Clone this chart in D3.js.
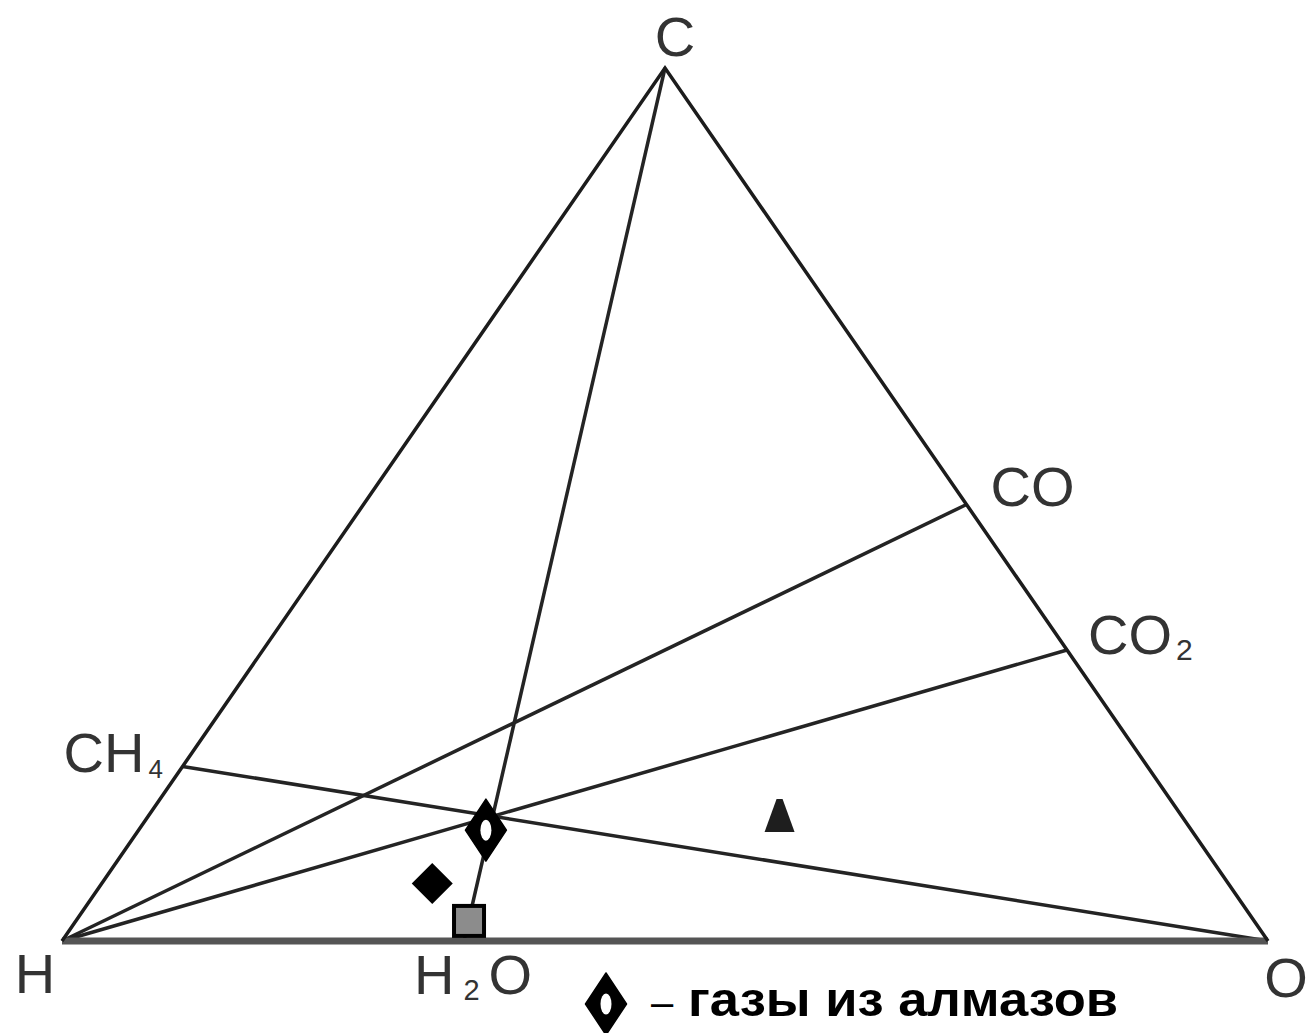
<!DOCTYPE html>
<html>
<head>
<meta charset="utf-8">
<script src="https://cdn.jsdelivr.net/npm/d3@7"></script>
<style>
  html, body { margin: 0; padding: 0; background: #ffffff; }
  svg { display: block; }
</style>
</head>
<body>
<div id="chart"></div>
<script>
// Тройная диаграмма C-H-O: состав [h, o, c] в атомных долях

// вершины треугольника
const vertexNames = ['H', 'O', 'C'];
const vertexComps = [[1, 0, 0], [0, 1, 0], [0, 0, 1]];

// соединения на сторонах
const compoundNames = ['CH4', 'CO', 'CO2', 'H2O'];
const compoundComps = [
    [0.8, 0, 0.2],
    [0, 0.5, 0.5],
    [0, 2 / 3, 1 / 3],
    [2 / 3, 1 / 3, 0]
];

// линии-разрезы (откуда -> куда)
const tieFrom = ['H', 'H', 'C', 'CH4'];
const tieTo = ['CO', 'CO2', 'H2O', 'O'];

// точки составов
const pointTypes = ['filledDiamond', 'square', 'triangle', 'hollowDiamond'];
const pointComps = [
    [0.660, 0.274, 0.066],
    [0.651, 0.326, 0.023],
    [0.334, 0.524, 0.142],
    [0.585, 0.288, 0.127]
];

const legendText = 'газы из алмазов';

class TernaryChart {
    constructor(containerId) {
        this.container = document.getElementById(containerId);
        this.width = 1307;
        this.height = 1033;
        this.font = 'Liberation Sans, Arial, sans-serif';

        // x = o + c/2, y = c
        this.x = d3.scaleLinear().domain([0, 1]).range([62, 1268]);
        this.y = d3.scaleLinear().domain([0, 1]).range([941, 68]);

        this.init();
    }

    init() {
        this.svg = d3.select(this.container)
            .append('svg')
            .attr('width', this.width)
            .attr('height', this.height)
            .style('background', '#ffffff');

        this.lookup = {};
        vertexNames.forEach((n, i) => { this.lookup[n] = vertexComps[i]; });
        compoundNames.forEach((n, i) => { this.lookup[n] = compoundComps[i]; });

        this.drawTieLines();
        this.drawEdges();
        this.drawPoints();
        this.drawLabels();
        this.drawLegend();
    }

    project(comp) {
        const [h, o, c] = comp;
        return [this.x(o + c / 2), this.y(c)];
    }

    drawEdges() {
        const line = d3.line();
        const H = this.project(this.lookup.H);
        const O = this.project(this.lookup.O);
        const C = this.project(this.lookup.C);

        // основание H-O толще и серое
        this.svg.append('path')
            .attr('d', line([H, O]))
            .attr('stroke', '#555555')
            .attr('stroke-width', 7)
            .attr('fill', 'none');

        this.svg.append('path')
            .attr('d', line([O, C, H]))
            .attr('stroke', '#1c1c1c')
            .attr('stroke-width', 3.5)
            .attr('stroke-linejoin', 'miter')
            .attr('fill', 'none');
    }

    drawTieLines() {
        const line = d3.line();
        this.svg.selectAll('.tie')
            .data(tieFrom.map((f, i) => [f, tieTo[i]]))
            .enter()
            .append('path')
            .attr('class', 'tie')
            .attr('d', d => line([this.project(this.lookup[d[0]]), this.project(this.lookup[d[1]])]))
            .attr('stroke', '#242424')
            .attr('stroke-width', 3.5)
            .attr('fill', 'none');
    }

    // ромб с белым «глазком»
    hollowDiamond(g) {
        g.append('path')
            .attr('d', 'M0,-31L20.5,0L0,31L-20.5,0Z')
            .attr('fill', '#000000')
            .attr('stroke', '#000000')
            .attr('stroke-width', 1.5)
            .attr('stroke-linejoin', 'round');
        g.append('ellipse')
            .attr('rx', 5.5)
            .attr('ry', 10.5)
            .attr('fill', '#ffffff');
    }

    drawPoints() {
        const g = this.svg.selectAll('.pt')
            .data(pointTypes.map((t, i) => ({ type: t, pos: this.project(pointComps[i]) })))
            .enter()
            .append('g')
            .attr('class', 'pt')
            .attr('transform', d => `translate(${d.pos[0]}, ${d.pos[1]})`);

        const self = this;
        g.each(function (d) {
            const s = d3.select(this);
            if (d.type === 'filledDiamond') {
                s.append('path')
                    .attr('d', 'M0,-20.5L20.5,0L0,20.5L-20.5,0Z')
                    .attr('fill', '#000000');
            } else if (d.type === 'square') {
                s.append('rect')
                    .attr('x', -15).attr('y', -15)
                    .attr('width', 30).attr('height', 30)
                    .attr('fill', '#8c8c8c')
                    .attr('stroke', '#000000')
                    .attr('stroke-width', 4);
            } else if (d.type === 'triangle') {
                s.append('path')
                    .attr('d', 'M-3,-18L3,-18L15,15L-15,15Z')
                    .attr('fill', '#1e1e1e');
            } else {
                self.hollowDiamond(s);
            }
        });
    }

    // подпись с нижним индексом
    label(x, y, main, sub, rest, subSize, anchor) {
        const t = this.svg.append('text')
            .attr('x', x)
            .attr('y', y)
            .attr('text-anchor', anchor || 'start')
            .attr('font-family', this.font)
            .attr('font-size', 56)
            .attr('fill', '#333333');
        t.append('tspan').text(main);
        if (sub) {
            t.append('tspan')
                .attr('font-size', subSize || 28)
                .attr('dx', 4)
                .attr('dy', 6)
                .text(sub);
        }
        if (rest) {
            t.append('tspan')
                .attr('dx', 8)
                .attr('dy', -6)
                .text(rest);
        }
        return t;
    }

    drawLabels() {
        const [cx, cy] = this.project(this.lookup.C);
        const [hx, hy] = this.project(this.lookup.H);
        const [ox, oy] = this.project(this.lookup.O);
        const co = this.project(this.lookup.CO);
        const co2 = this.project(this.lookup.CO2);
        const ch4 = this.project(this.lookup.CH4);
        const h2o = this.project(this.lookup.H2O);

        this.label(cx + 10, cy - 12, 'C', null, null, null, 'middle');
        this.label(hx - 27, hy + 52, 'H', null, null, null, 'middle');
        this.label(ox + 18, oy + 56, 'O', null, null, null, 'middle');
        this.label(co[0] + 24, co[1] + 1, 'CO');
        this.label(co2[0] + 21, co2[1] + 4, 'CO', '2', null, 30);
        this.label(ch4[0] - 119, ch4[1] + 6, 'CH', '4', null, 26);
        this.label(h2o[0] - 50, h2o[1] + 53, 'H', '2', 'O', 29)
            .selectAll('tspan')
            .attr('dx', (d, i) => [0, 9, 9][i]);
    }

    drawLegend() {
        const g = this.svg.append('g')
            .attr('transform', 'translate(606, 1004)');
        this.hollowDiamond(g);

        this.svg.append('text')
            .attr('x', 651)
            .attr('y', 1016)
            .attr('font-family', this.font)
            .attr('font-size', 40)
            .attr('fill', '#000000')
            .text('–');

        this.svg.append('text')
            .attr('x', 688)
            .attr('y', 1016)
            .attr('font-family', this.font)
            .attr('font-weight', 'bold')
            .attr('font-size', 48)
            .attr('fill', '#000000')
            .attr('textLength', 430)
            .attr('lengthAdjust', 'spacingAndGlyphs')
            .text(legendText);
    }
}

new TernaryChart('chart');
</script>
</body>
</html>
